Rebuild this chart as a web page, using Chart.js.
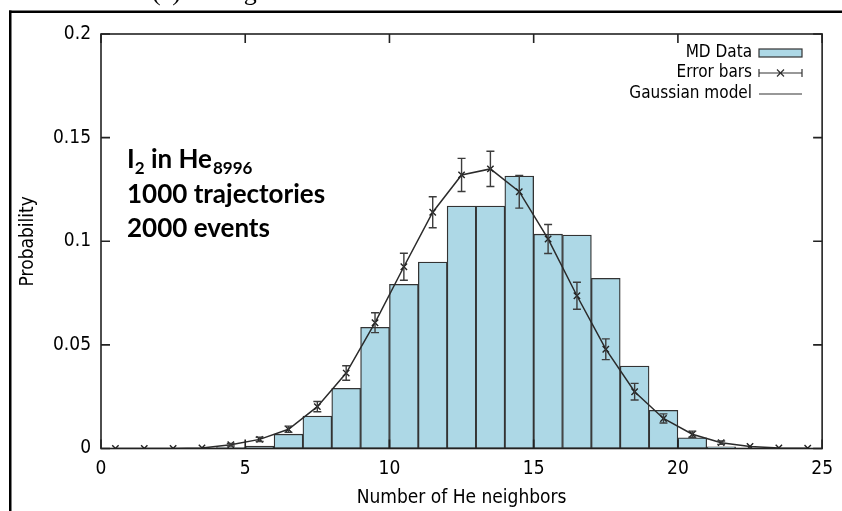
<!DOCTYPE html>
<html>
<head>
<meta charset="utf-8">
<title>He neighbours histogram</title>
<script src="https://cdn.jsdelivr.net/npm/chart.js@4.4.1/dist/chart.umd.min.js"></script>
<style>
  html, body { margin: 0; padding: 0; background: #fff; }
  #wrap { width: 842px; height: 511px; }
</style>
</head>
<body>
<div id="wrap"><canvas id="histCanvas" width="842" height="511"></canvas></div>
<script>
// bin centres (bins are [n, n+1])
var binCentre = [0.5, 1.5, 2.5, 3.5, 4.5, 5.5, 6.5, 7.5, 8.5, 9.5, 10.5, 11.5, 12.5,
                 13.5, 14.5, 15.5, 16.5, 17.5, 18.5, 19.5, 20.5, 21.5, 22.5, 23.5, 24.5];

// MD histogram
var mdProb = [0, 0, 0, 0, 0.0005, 0.0012, 0.0069, 0.0157, 0.029, 0.0585, 0.0792, 0.090, 0.117,
              0.117, 0.1315, 0.1034, 0.103, 0.0821, 0.0398, 0.0184, 0.0052, 0.0008, 0, 0, 0];

// points with error bars
var errProb = [0, 0, 0, 0.0003, 0.0018, 0.0044, 0.0093, 0.0202, 0.0364, 0.0607, 0.0877, 0.114, 0.132,
               0.1349, 0.1239, 0.1011, 0.0737, 0.0479, 0.0274, 0.0145, 0.0069, 0.0028, 0.001, 0.0003, 0.0001];
var errSize = [0, 0, 0, 0, 0.0006, 0.001, 0.0015, 0.0025, 0.0035, 0.0048, 0.0065, 0.0075, 0.008,
               0.0085, 0.0079, 0.007, 0.0065, 0.005, 0.004, 0.0022, 0.0015, 0.0008, 0, 0, 0];

// gaussian fit
var modelProb = [0, 0, 0, 0.0003, 0.0018, 0.0044, 0.0093, 0.0202, 0.0364, 0.0607, 0.0877, 0.114, 0.132,
                 0.1349, 0.1239, 0.1011, 0.0737, 0.0479, 0.0274, 0.0145, 0.0069, 0.0028, 0.001, 0.0003, 0.0001];

var xTicks = [0, 5, 10, 15, 20, 25];
var yTicks = [0, 0.05, 0.1, 0.15, 0.2];
var yTickLabels = ["0", "0.05", "0.1", "0.15", "0.2"];

var legendNames = ["MD Data", "Error bars", "Gaussian model"];
var infoLines = ["1000 trajectories", "2000 events"];

var BAR_FILL = "#add8e6";
var INK = "#2b2b2b";
var AXIS_FONT = "'DejaVu Sans Condensed', 'DejaVu Sans', sans-serif";

function pairs(xs, ys) {
    return xs.map(function(x, i) { return {x: x, y: ys[i]}; });
}

// outer figure rule + caption sitting above the canvas edge
var figureFrame = {
    id: "figureFrame",
    beforeDraw: function(chart) {
        var ctx = chart.ctx;
        ctx.save();
        ctx.fillStyle = "#fff";
        ctx.fillRect(0, 0, chart.width, chart.height);
        ctx.fillStyle = "#000";
        ctx.font = "26px 'Liberation Serif', serif";
        ctx.textBaseline = "alphabetic";
        ctx.fillText("(a) Histogram", 152, 0);
        ctx.fillRect(9, 10.5, chart.width - 9, 2.5);
        ctx.fillRect(9, 10.5, 2.5, chart.height - 10.5);
        ctx.restore();
    }
};

// vertical error bars with caps
var errorWhiskers = {
    id: "errorWhiskers",
    afterDatasetsDraw: function(chart) {
        var ctx = chart.ctx;
        var xs = chart.scales.x, ys = chart.scales.y;
        ctx.save();
        ctx.strokeStyle = "#3c3c3c";
        ctx.lineWidth = 1.4;
        binCentre.forEach(function(c, i) {
            if (!errSize[i]) return;
            var px = xs.getPixelForValue(c);
            var top = ys.getPixelForValue(errProb[i] + errSize[i]);
            var bot = ys.getPixelForValue(errProb[i] - errSize[i]);
            ctx.beginPath();
            ctx.moveTo(px, top); ctx.lineTo(px, bot);
            ctx.moveTo(px - 4, top); ctx.lineTo(px + 4, top);
            ctx.moveTo(px - 4, bot); ctx.lineTo(px + 4, bot);
            ctx.stroke();
        });
        ctx.restore();
    }
};

// plot border, inward ticks, key and annotation
var plotDecor = {
    id: "plotDecor",
    afterDraw: function(chart) {
        var ctx = chart.ctx;
        var a = chart.chartArea;
        var xs = chart.scales.x, ys = chart.scales.y;
        var tick = 9;
        ctx.save();
        ctx.strokeStyle = "#222";
        ctx.lineWidth = 1.6;
        ctx.strokeRect(a.left, a.top, a.right - a.left, a.bottom - a.top);
        ctx.beginPath();
        xTicks.forEach(function(v) {
            var px = xs.getPixelForValue(v);
            ctx.moveTo(px, a.bottom); ctx.lineTo(px, a.bottom - tick);
            ctx.moveTo(px, a.top); ctx.lineTo(px, a.top + tick);
        });
        yTicks.forEach(function(v) {
            var py = ys.getPixelForValue(v);
            ctx.moveTo(a.left, py); ctx.lineTo(a.left + tick, py);
            ctx.moveTo(a.right, py); ctx.lineTo(a.right - tick, py);
        });
        ctx.stroke();

        // key
        var textRight = 752, sx0 = 759, sx1 = 802;
        var rows = [53, 73, 94];
        ctx.font = "17px " + AXIS_FONT;
        ctx.fillStyle = "#000";
        ctx.textAlign = "right";
        ctx.textBaseline = "middle";
        legendNames.forEach(function(t, i) { ctx.fillText(t, textRight, rows[i]); });

        ctx.fillStyle = BAR_FILL;
        ctx.fillRect(sx0, rows[0] - 4, sx1 - sx0, 8);
        ctx.strokeStyle = "#333";
        ctx.lineWidth = 1.2;
        ctx.strokeRect(sx0, rows[0] - 4, sx1 - sx0, 8);

        ctx.beginPath();
        ctx.moveTo(sx0, rows[1]); ctx.lineTo(sx1, rows[1]);
        ctx.moveTo(sx0, rows[1] - 4); ctx.lineTo(sx0, rows[1] + 4);
        ctx.moveTo(sx1, rows[1] - 4); ctx.lineTo(sx1, rows[1] + 4);
        var cx = (sx0 + sx1) / 2;
        ctx.moveTo(cx - 3.5, rows[1] - 3.5); ctx.lineTo(cx + 3.5, rows[1] + 3.5);
        ctx.moveTo(cx - 3.5, rows[1] + 3.5); ctx.lineTo(cx + 3.5, rows[1] - 3.5);
        ctx.moveTo(sx0, rows[2]); ctx.lineTo(sx1, rows[2]);
        ctx.stroke();

        // system description
        var x0 = 127;
        ctx.fillStyle = "#000";
        ctx.textAlign = "left";
        ctx.textBaseline = "alphabetic";
        var big = "bold 26px Lato, 'Open Sans', sans-serif";
        var small = "bold 17px Lato, 'Open Sans', sans-serif";
        var x = x0;
        ctx.font = big; ctx.fillText("I", x, 168); x += ctx.measureText("I").width;
        ctx.font = small; ctx.fillText("2", x, 174); x += ctx.measureText("2").width;
        ctx.font = big; ctx.fillText(" in He", x, 168); x += ctx.measureText(" in He").width;
        ctx.font = small; ctx.fillText("8996", x + 1, 174);
        ctx.font = big;
        ctx.fillText(infoLines[0], x0, 203);
        ctx.fillText(infoLines[1], x0, 237);
        ctx.restore();
    }
};

var config = {
    type: "bar",
    data: {
        datasets: [{
            type: "line",
            label: "Error bars",
            data: pairs(binCentre, errProb),
            showLine: false,
            pointStyle: "crossRot",
            pointRadius: 4.5,
            pointBorderWidth: 1.4,
            pointBorderColor: "#222",
            order: 1
        }, {
            type: "line",
            label: "Gaussian model",
            data: pairs(binCentre, modelProb),
            borderColor: INK,
            borderWidth: 1.5,
            pointRadius: 0,
            tension: 0,
            fill: false,
            order: 2
        }, {
            type: "bar",
            label: "MD Data",
            data: pairs(binCentre, mdProb),
            backgroundColor: BAR_FILL,
            borderColor: "#333",
            borderWidth: 1.3,
            borderSkipped: false,
            barPercentage: 1,
            categoryPercentage: 1,
            order: 3
        }]
    },
    options: {
        responsive: false,
        animation: false,
        devicePixelRatio: 1,
        layout: { padding: { left: 0, top: 34, right: 19.5, bottom: 0 } },
        plugins: {
            legend: { display: false },
            tooltip: { enabled: false }
        },
        scales: {
            x: {
                type: "linear",
                min: 0,
                max: 25,
                offset: false,
                grid: { display: false, drawTicks: false },
                border: { display: false },
                afterBuildTicks: function(scale) {
                    scale.ticks = xTicks.map(function(v) { return {value: v}; });
                },
                afterFit: function(scale) { scale.height = 62.5; },
                ticks: {
                    padding: 9,
                    color: "#000",
                    font: { family: AXIS_FONT, size: 19 },
                    maxRotation: 0
                },
                title: {
                    display: true,
                    text: "Number of He neighbors",
                    color: "#000",
                    font: { family: AXIS_FONT, size: 19 },
                    padding: { top: 0, bottom: 2 }
                }
            },
            y: {
                min: 0,
                max: 0.2,
                grid: { display: false, drawTicks: false },
                border: { display: false },
                afterBuildTicks: function(scale) {
                    scale.ticks = yTicks.map(function(v) { return {value: v}; });
                },
                afterFit: function(scale) { scale.width = 101; },
                ticks: {
                    padding: 10,
                    color: "#000",
                    font: { family: AXIS_FONT, size: 19 },
                    callback: function(v, i) { return yTickLabels[i]; }
                },
                title: {
                    display: true,
                    text: "Probability",
                    color: "#000",
                    font: { family: AXIS_FONT, size: 19 },
                    padding: { top: 17, bottom: 0 }
                }
            }
        }
    },
    plugins: [figureFrame, errorWhiskers, plotDecor]
};

var ctx = document.getElementById("histCanvas");
window.histChart = new Chart(ctx, config);
</script>
</body>
</html>
